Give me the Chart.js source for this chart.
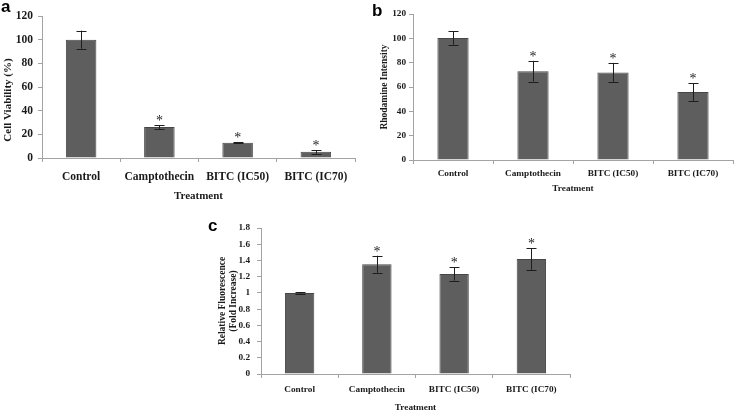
<!DOCTYPE html>
<html>
<head>
<meta charset="utf-8">
<script src="https://cdn.jsdelivr.net/npm/chart.js@4.4.1/dist/chart.umd.min.js"></script>
<style>
  html, body { margin: 0; padding: 0; background: #fff; }
  body { width: 738px; height: 411px; position: relative; overflow: hidden; }
  .panel { position: absolute; }
  canvas { display: block; }
</style>
</head>
<body>
<div class="panel" id="pa" style="left:0px;top:0px;width:365px;height:205px;"><canvas id="ca" width="365" height="205"></canvas></div>
<div class="panel" id="pb" style="left:370px;top:0px;width:368px;height:205px;"><canvas id="cb" width="368" height="205"></canvas></div>
<div class="panel" id="pc" style="left:200px;top:210px;width:380px;height:203px;"><canvas id="cc" width="380" height="203"></canvas></div>
<script>
// ---- data ----
const categories = ['Control', 'Camptothecin', 'BITC (IC50)', 'BITC (IC70)'];
const viability = [100, 26.2, 12.9, 5.2];
const viabilityErr = [7.6, 1.7, 0.5, 1.6];
const rhodamine = [100.3, 73, 72, 55.8];
const rhodamineErr = [5.5, 8.5, 7.8, 7.2];
const fluorescence = [1.0, 1.353, 1.233, 1.418];
const fluorescenceErr = [0.01, 0.105, 0.082, 0.135];
const significant = [false, true, true, true];
const viabilityTicks = [0, 20, 40, 60, 80, 100, 120];
const rhodamineTicks = [0, 20, 40, 60, 80, 100, 120];
const fluorescenceTicks = [0, 0.2, 0.4, 0.6, 0.8, 1, 1.2, 1.4, 1.6, 1.8];

const SERIF = '"Liberation Serif", "Times New Roman", serif';
const SANS = '"Liberation Sans", Arial, sans-serif';
const AXIS = '#a3a3a3';

// error bars, asterisks, rotated y titles and panel letters
const extras = {
  id: 'extras',
  afterDatasetsDraw(chart, args, opts) {
    const ctx = chart.ctx;
    const meta = chart.getDatasetMeta(0);
    const ys = chart.scales.y;
    const vals = chart.data.datasets[0].data;
    ctx.save();
    ctx.strokeStyle = '#1e1e1e';
    ctx.lineWidth = 1;
    meta.data.forEach((bar, i) => {
      const x = Math.round(bar.x) + 0.5;
      const top = ys.getPixelForValue(vals[i] + opts.err[i]);
      const bot = ys.getPixelForValue(vals[i] - opts.err[i]);
      ctx.beginPath();
      ctx.moveTo(x, top); ctx.lineTo(x, bot);
      ctx.moveTo(x - opts.cap, Math.round(top) + 0.5); ctx.lineTo(x + opts.cap, Math.round(top) + 0.5);
      ctx.moveTo(x - opts.cap, Math.round(bot) + 0.5); ctx.lineTo(x + opts.cap, Math.round(bot) + 0.5);
      ctx.stroke();
      if (opts.sig[i]) {
        ctx.fillStyle = '#1e1e1e';
        ctx.font = opts.starSize + 'px ' + SERIF;
        ctx.textAlign = 'center';
        ctx.textBaseline = 'alphabetic';
        ctx.fillText('*', bar.x, top + opts.starGap);
      }
    });
    // y title
    ctx.fillStyle = '#1a1a1a';
    ctx.font = 'bold ' + opts.yTitleSize + 'px ' + SERIF;
    ctx.textAlign = 'center';
    ctx.textBaseline = 'middle';
    opts.yTitle.forEach((line, k) => {
      ctx.save();
      ctx.translate(opts.yTitleX + k * opts.yTitleGap, opts.yTitleY);
      ctx.rotate(-Math.PI / 2);
      ctx.fillText(line, 0, 0);
      ctx.restore();
    });
    // panel letter
    ctx.fillStyle = '#000';
    ctx.font = 'bold ' + opts.letterSize + 'px ' + SANS;
    ctx.textAlign = 'left';
    ctx.textBaseline = 'alphabetic';
    ctx.fillText(opts.letter, opts.letterX, opts.letterY);
    ctx.restore();
  }
};

function makeChart(id, values, cfg) {
  return new Chart(document.getElementById(id), {
    type: 'bar',
    data: {
      labels: categories,
      datasets: [{
        data: values,
        backgroundColor: '#5e5e5e',
        borderColor: '#474747',
        borderWidth: 1,
        borderSkipped: 'bottom',
        barPercentage: cfg.barPct,
        categoryPercentage: 1
      }]
    },
    options: {
      responsive: false,
      animation: false,
      events: [],
      layout: { padding: cfg.padding },
      plugins: {
        legend: { display: false },
        tooltip: { enabled: false },
        extras: cfg.extras
      },
      scales: {
        x: {
          type: 'category',
          offset: true,
          afterFit(s) { s.height = cfg.xHeight; },
          grid: { offset: true, drawOnChartArea: false, drawTicks: true, tickLength: 4, color: AXIS },
          border: { color: AXIS, width: 1 },
          ticks: { color: '#1a1a1a', padding: cfg.xTickPad, maxRotation: 0, autoSkip: false,
                   font: { family: SERIF, size: cfg.fontSize, weight: 'bold' } },
          title: { display: true, text: 'Treatment', color: '#1a1a1a',
                   padding: { top: 0, bottom: cfg.xTitlePad },
                   font: { family: SERIF, size: cfg.xTitleSize, weight: 'bold' } }
        },
        y: {
          min: cfg.ticks[0],
          max: cfg.ticks[cfg.ticks.length - 1],
          afterFit(s) { s.width = cfg.yWidth; },
          afterBuildTicks(s) { s.ticks = cfg.ticks.map(v => ({ value: v })); },
          grid: { drawOnChartArea: false, drawTicks: true, tickLength: 4, color: AXIS },
          border: { color: AXIS, width: 1 },
          ticks: { color: '#1a1a1a', padding: cfg.yTickPad,
                   callback: v => String(Math.round(v * 10) / 10),
                   font: { family: SERIF, size: cfg.fontSize, weight: 'bold' } }
        }
      }
    },
    plugins: [extras]
  });
}

makeChart('ca', viability, {
  barPct: 0.39, padding: { top: 16, right: 10, left: 0, bottom: 0 },
  xHeight: 47, yWidth: 42, xTickPad: 8, yTickPad: 5, fontSize: 11.5, xTitleSize: 11, xTitlePad: 2.4,
  ticks: viabilityTicks,
  extras: { err: viabilityErr, sig: significant, cap: 5, starSize: 14, starGap: 0,
            yTitle: ['Cell Viability (%)'], yTitleX: 8, yTitleY: 100, yTitleGap: 0, yTitleSize: 11,
            letter: 'a', letterX: 1, letterY: 12, letterSize: 17 }
});

makeChart('cb', rhodamine, {
  barPct: 0.39, padding: { top: 14, right: 5, left: 0, bottom: 0 },
  xHeight: 45, yWidth: 43, xTickPad: 4.5, yTickPad: 3, fontSize: 9.25, xTitleSize: 9.25, xTitlePad: 11.3,
  ticks: rhodamineTicks,
  extras: { err: rhodamineErr, sig: significant, cap: 5, starSize: 14, starGap: 0,
            yTitle: ['Rhodamine Intensity'], yTitleX: 15, yTitleY: 87, yTitleGap: 0, yTitleSize: 9.5,
            letter: 'b', letterX: 2, letterY: 16, letterSize: 17 }
});

makeChart('cc', fluorescence, {
  barPct: 0.38, padding: { top: 18, right: 10, left: 0, bottom: 0 },
  xHeight: 39, yWidth: 61, xTickPad: 6.5, yTickPad: 7, fontSize: 9.25, xTitleSize: 9.25, xTitlePad: 0.3,
  ticks: fluorescenceTicks,
  extras: { err: fluorescenceErr, sig: significant, cap: 5, starSize: 14, starGap: 0,
            yTitle: ['Relative Fluorescence', '(Fold Increase)'], yTitleX: 22.5, yTitleY: 91, yTitleGap: 11, yTitleSize: 9.5,
            letter: 'c', letterX: 8, letterY: 21, letterSize: 17 }
});
</script>
</body>
</html>
